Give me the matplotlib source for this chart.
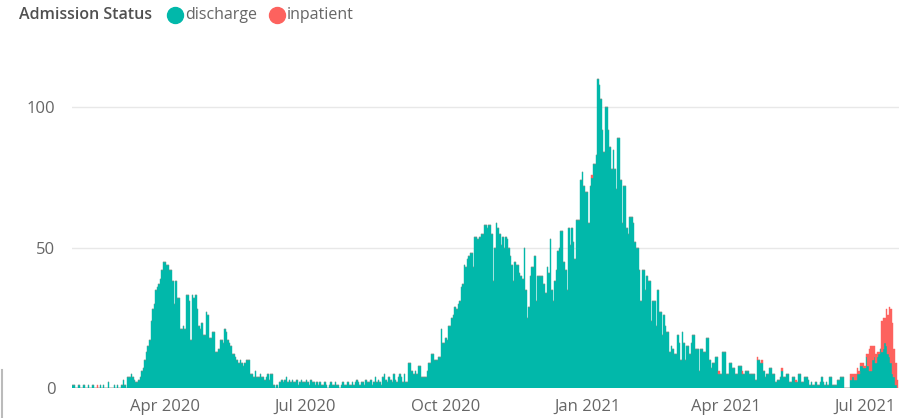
import matplotlib.pyplot as plt
import matplotlib.dates as mdates
from matplotlib.lines import Line2D
import numpy as np
import pandas as pd

# daily discharge counts, one list per month
feb20 = [1, 1, 0, 0, 1, 0, 0, 1, 0, 0, 1, 0, 0, 1, 0, 0, 0, 0, 1, 0, 1, 0, 0, 2, 0, 0, 0, 1, 0]
mar20 = [1, 0, 0, 1, 3, 1, 0, 4, 4, 5, 4, 3, 2, 2, 3, 4, 6, 7, 10, 13,
         15, 17, 24, 28, 30, 35, 36, 37, 39, 42, 45]
apr20 = [45, 44, 44, 42, 42, 38, 30, 38, 32, 32, 21, 21, 22, 21, 33, 33, 31, 17, 33, 32,
         33, 28, 22, 21, 23, 19, 19, 27, 26, 18]
may20 = [18, 20, 20, 13, 13, 14, 17, 17, 16, 21, 20, 17, 16, 15, 12, 12, 11, 10, 9, 10,
         9, 8, 9, 10, 10, 10, 5, 5, 4, 6, 4]
jun20 = [4, 5, 4, 4, 3, 4, 5, 3, 5, 5, 1, 0, 1, 0, 2, 3, 2, 3, 4, 2,
         3, 2, 3, 2, 2, 3, 1, 2, 3, 2]
jul20 = [2, 3, 2, 1, 3, 2, 2, 1, 2, 1, 2, 1, 1, 2, 1, 0, 1, 2, 1, 1,
         2, 1, 1, 0, 1, 2, 1, 1, 2, 1, 1]
aug20 = [2, 1, 2, 3, 2, 1, 2, 2, 1, 3, 2, 2, 3, 1, 2, 4, 2, 3, 2, 1,
         4, 5, 3, 2, 4, 3, 2, 5, 3, 2, 4]
sep20 = [5, 4, 2, 5, 2, 2, 9, 9, 6, 5, 6, 5, 8, 8, 4, 4, 4, 4, 6, 9,
         9, 12, 12, 10, 10, 11, 11, 21, 16, 16]
oct20 = [18, 17, 22, 22, 25, 26, 29, 28, 30, 31, 36, 37, 44, 43, 46, 47, 48, 48, 43, 54,
         54, 53, 54, 55, 55, 58, 58, 57, 58, 58, 55]
nov20 = [38, 50, 59, 57, 55, 51, 54, 50, 54, 53, 50, 47, 44, 38, 45, 44, 44, 41, 40, 39,
         50, 35, 25, 29, 40, 43, 43, 47, 31, 40]
dec20 = [40, 40, 40, 37, 34, 43, 41, 53, 35, 31, 38, 42, 49, 50, 56, 56, 45, 42, 35, 57,
         51, 57, 52, 46, 60, 60, 60, 74, 77, 72, 70]
jan21 = [70, 59, 72, 75, 80, 80, 83, 110, 108, 103, 92, 84, 100, 100, 92, 86, 78, 85, 78, 71,
         89, 89, 74, 59, 72, 72, 57, 55, 61, 61, 59]
feb21 = [52, 50, 50, 42, 31, 42, 42, 35, 40, 38, 38, 24, 31, 31, 22, 35, 27, 27, 19, 26,
         22, 20, 20, 13, 15, 14, 12, 12]
mar21 = [19, 16, 10, 20, 16, 10, 15, 15, 12, 16, 19, 19, 14, 14, 6, 14, 14, 13, 13, 18,
         18, 10, 7, 9, 9, 11, 11, 5, 5, 13, 13]
apr21 = [13, 5, 5, 9, 9, 7, 7, 5, 5, 8, 8, 5, 5, 6, 6, 6, 5, 5, 5, 5,
         3, 10, 10, 9, 9, 6, 4, 5, 5, 7]
may21 = [7, 5, 5, 2, 3, 3, 4, 6, 4, 4, 5, 5, 2, 2, 4, 4, 2, 2, 5, 5,
         2, 2, 4, 4, 3, 1, 2, 1, 1, 2, 1]
jun21 = [1, 2, 4, 2, 1, 2, 1, 4, 4, 1, 1, 1, 3, 3, 4, 4, 4, 0, 0, 0,
         0, 3, 4, 3, 3, 5, 5, 8, 8, 7]
jul21 = [7, 11, 8, 6, 6, 10, 11, 9, 11, 12, 14, 13, 14, 16, 15, 12, 11, 9, 5, 4, 1, 0]

discharge = np.array(feb20 + mar20 + apr20 + may20 + jun20 + jul20 + aug20 + sep20 + oct20
                     + nov20 + dec20 + jan21 + feb21 + mar21 + apr21 + may21 + jun21 + jul21)
dates = pd.date_range("2020-02-01", periods=len(discharge), freq="D")

# inpatient: a few single days, then the run from late June 2021
inp_dates = ["2020-02-17", "2021-01-04", "2021-03-28", "2021-04-12",
             "2021-04-22", "2021-04-25", "2021-05-08", "2021-05-17"]
inp_counts = [1, 1, 1, 1, 1, 1, 1, 1]
inp_run_start = "2021-06-22"
inp_run = [2, 1, 2, 2, 2, 1, 1, 1, 2, 1, 1, 4, 8, 9, 5, 4, 3, 2, 1, 0,
           11, 11, 9, 13, 14, 18, 19, 18, 10, 8, 3]

inpatient = pd.Series(0, index=dates)
inpatient[pd.to_datetime(inp_dates)] = inp_counts
run_idx = pd.date_range(inp_run_start, periods=len(inp_run), freq="D")
inpatient[run_idx] = inp_run

tick_dates = pd.to_datetime(["2020-04-01", "2020-07-01", "2020-10-01",
                             "2021-01-01", "2021-04-01", "2021-07-01"])
tick_labels = ["Apr 2020", "Jul 2020", "Oct 2020", "Jan 2021", "Apr 2021", "Jul 2021"]

teal = "#01B8AA"
red = "#FD625E"
gray = "#666666"

plt.rcParams["font.family"] = ["Open Sans", "DejaVu Sans"]

fig = plt.figure(figsize=(8.99, 4.18), dpi=100)
ax = fig.add_axes([72 / 899, 30 / 418, 1 - 72 / 899, 331 / 418])

ax.bar(dates, discharge, width=1.0, color=teal, edgecolor=teal, linewidth=0.3, zorder=2)
ax.bar(dates, inpatient.values, bottom=discharge, width=1.0, color=red,
       edgecolor=red, linewidth=0.3, zorder=2)

x0 = mdates.date2num(pd.Timestamp("2020-02-01"))
ax.set_xlim(x0 - 0.65, x0 + 538.1)
ax.set_ylim(0, 118)

ax.set_xticks(tick_dates)
ax.set_xticklabels(tick_labels)
ax.set_yticks([0, 50, 100])
ax.tick_params(axis="both", length=0, labelsize=12, colors=gray)
ax.tick_params(axis="x", pad=8)
ax.tick_params(axis="y", pad=12)
ax.grid(axis="y", color="#E8E8E8", linewidth=1, zorder=0)
for s in ax.spines.values():
    s.set_visible(False)

# legend header
ly = 1 - 15 / 418
fig.text(19 / 899, ly, "Admission Status", fontsize=11.5, fontweight="semibold",
         color="#505050", va="center", ha="left")
for xm, lab, col in [(175, "discharge", teal), (277, "inpatient", red)]:
    fig.add_artist(Line2D([xm / 899], [ly], marker="o", markersize=11.5,
                          color=col, linestyle="none", transform=fig.transFigure))
    fig.text((xm + 10) / 899, ly, lab, fontsize=11.5, color=gray,
             va="center", ha="left")

# edge of neighbouring visual
fig.add_artist(Line2D([1.5 / 899, 1.5 / 899], [0, 48 / 418], color="#BBBBBB",
                      linewidth=1.5, transform=fig.transFigure))

fig.savefig("out.png", dpi=100)
